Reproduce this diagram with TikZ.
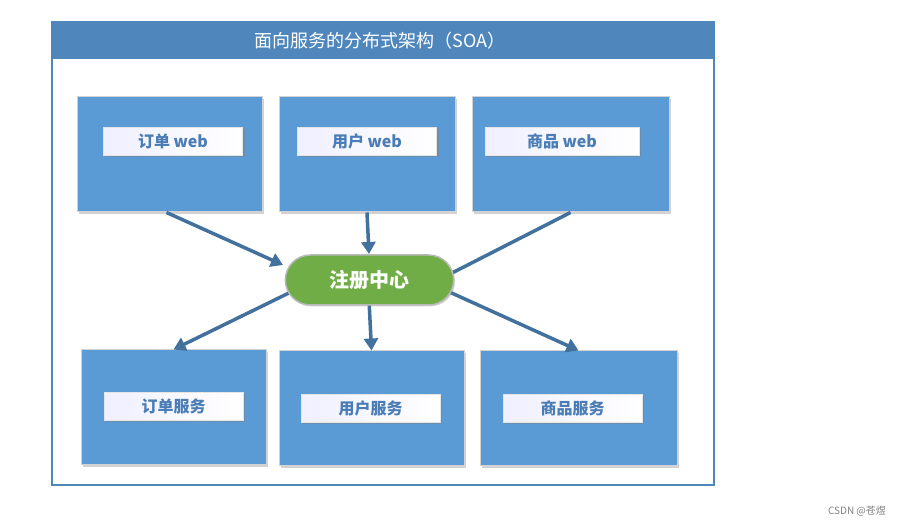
\documentclass[tikz,border=0pt]{standalone}
\usepackage{fontspec}
\setmainfont{Noto Sans CJK SC}
\usetikzlibrary{arrows.meta, positioning, shapes.misc, shadows, calc}
\definecolor{boxblue}{HTML}{5B9BD5}
\definecolor{barblue}{HTML}{4F87BD}
\definecolor{arrowblue}{HTML}{41719C}
\definecolor{textblue}{HTML}{4A7DB5}
\definecolor{regreen}{HTML}{70AD47}
\tikzstyle{arrow} = [line width=3.5pt, draw=arrowblue, -{Triangle[length=12pt,width=14pt]}]
\tikzstyle{line} = [line width=3.5pt, draw=arrowblue]

\begin{document}
\begin{tikzpicture}[x=1pt, y=-1pt,
    bigbox/.style={rectangle, fill=boxblue, draw=gray!35, line width=1pt,
      minimum height=115pt, drop shadow={shadow xshift=2pt, shadow yshift=-2pt, opacity=0.35}},
    tag/.style={rectangle, left color=blue!6, right color=white, draw=gray!20,
      minimum width=139pt, minimum height=28pt, text=textblue, font=\fontsize{16}{18}\selectfont\bfseries,
      drop shadow={shadow xshift=2pt, shadow yshift=-2pt, opacity=0.45}}]
    \useasboundingbox (0,0) rectangle (906,526);
    % outer frame and title
    \draw[barblue, line width=1.2pt, fill=white] (52,22) rectangle (714,485);
    \fill[barblue] (52,22) rectangle (714,59);
    \node[text=white, font=\fontsize{18}{20}\selectfont] (title) at (380,41) {面向服务的分布式架构（SOA）};
    % web layer
    \node[bigbox, minimum width=185pt] (orderweb) at (169.5,154.5) {};
    \node[bigbox, minimum width=176pt] (userweb) at (367,154.5) {};
    \node[bigbox, minimum width=197pt] (goodsweb) at (570.5,154.5) {};
    \node[tag] (orderwebtag) at (173,141.5) {订单 web};
    \node[tag] (userwebtag) at (367,141.5) {用户 web};
    \node[tag, minimum width=154pt] (goodswebtag) at (562,141.5) {商品 web};
    % service layer
    \node[bigbox, minimum width=185pt] (orderservice) at (173.5,407.5) {};
    \node[bigbox, minimum width=185pt] (userservice) at (371.5,408.5) {};
    \node[bigbox, minimum width=197pt] (goodsservice) at (578.5,408.5) {};
    \node[tag] (orderservicetag) at (173.5,406.5) {订单服务};
    \node[tag] (userservicetag) at (370.5,408.5) {用户服务};
    \node[tag] (goodsservicetag) at (572.5,408.5) {商品服务};
    % connectors
    \draw[arrow] ($(orderweb.south)+(-3,0)$) -- (283,265);
    \draw[arrow] (userweb.south) -- (369,254);
    \draw[line] (goodsweb.south) -- (450,274);
    \draw[arrow] (295,290) -- (orderservice.north);
    \draw[arrow] (369,300) -- (userservice.north);
    \draw[arrow] (445,290) -- (goodsservice.north);
    % registry
    \node[rounded rectangle, fill=regreen, draw=gray!55, line width=1.5pt, minimum width=175pt,
      minimum height=50pt, text=white, font=\fontsize{20}{22}\selectfont\bfseries,
      drop shadow={shadow xshift=1.5pt, shadow yshift=-1.5pt, opacity=0.3}] (registry) at (369.5,280) {注册中心};
    % watermark
    \node[text=gray, font=\fontsize{10}{12}\selectfont] (mark) at (857,511) {CSDN @苍煜};
\end{tikzpicture}
\end{document}
